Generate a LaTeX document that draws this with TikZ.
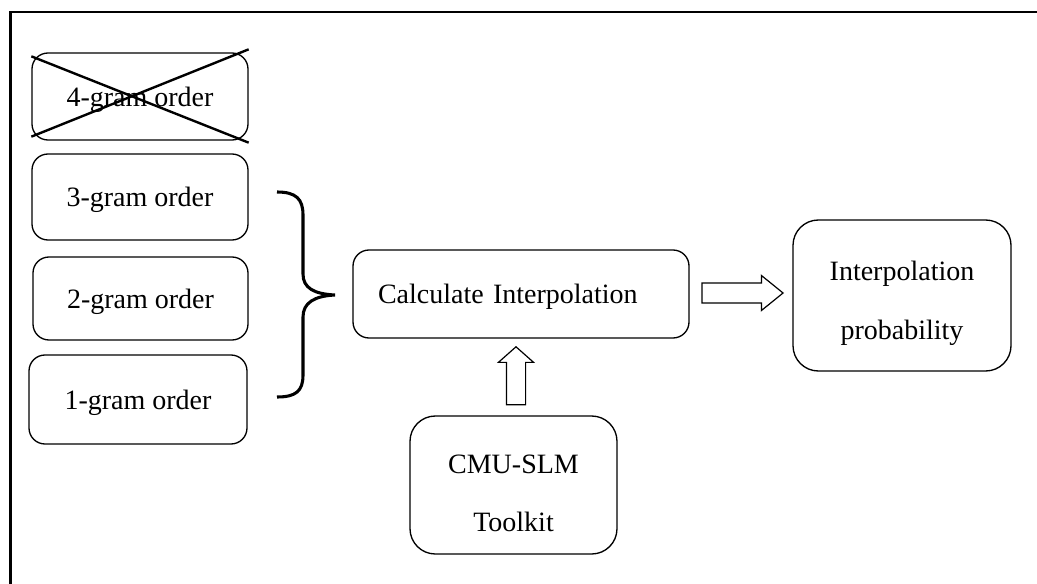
\documentclass[tikz,border=0pt]{standalone}
\usepackage{fontspec}
\setmainfont{Liberation Serif}
\usetikzlibrary{calc}
\usetikzlibrary{shapes,shapes.arrows}
\tikzset{
	every path/.style={line width=1pt},
	align=center,
	gram/.style={
		draw,
		rectangle,
		rounded corners=12pt,
		inner sep=0pt,
		text depth=0pt,
		font=\fontsize{21pt}{44pt}\selectfont,
	},
	tool/.style={
		gram,
		rounded corners=19pt,
	},
	fat/.style={
		draw,
		single arrow,
		inner sep=6.75pt,
		minimum width=25.5pt,
		line width=0.9pt,
	},
	crossed/.style={line width=1.8pt},
	curly/.style={line width=2.3pt},
	frame/.style={line width=1.6pt},
}

\begin{document}
\begin{tikzpicture}[x=0.75pt,y=-0.75pt]
		\useasboundingbox (0,0) rectangle (1037,584);

		\draw[frame] (10.5,584) -- (10.5,12) -- (1037,12);

		\node[gram, minimum width=162pt, minimum height=65.25pt]    (four) at (140,96.5) {4-gram order};
		\node[gram, minimum width=162pt, minimum height=64.5pt]     (three) at (140,197) {3-gram order};
		\node[gram, minimum width=161.25pt, minimum height=62.25pt] (two) at (140.5,298.5) {2-gram order};
		\node[gram, minimum width=163.5pt, minimum height=66.75pt]  (one) at (138,399.5) {1-gram order};

		\draw[crossed] ($(four.north west)+(0,4)$) -- ($(four.south east)+(0,2)$);
		\draw[crossed] ($(four.south west)+(0,-4)$) -- ($(four.north east)+(0,-3)$);

		\draw[curly] (277,192) .. controls (296,192) and (303,199) .. (303,215) -- (303,274)
			.. controls (303,288) and (314,294) .. (335,295)
			.. controls (314,296) and (303,303) .. (303,317) -- (303,375)
			.. controls (303,391) and (296,397) .. (277,397);

		\node[gram, text width=214.5pt, align=left, inner xsep=18.75pt, minimum height=66pt] (calc) at (521,294) {Calculate Interpolation};

		\node[tool, minimum width=163.5pt, minimum height=113.25pt] (prob) at (902,295.5) {\rule{0pt}{22pt}Interpolation\\probability};
		\node[tool, minimum width=155.25pt, minimum height=103.5pt] (cmu) at (513.5,485) {\rule{0pt}{26pt}CMU-SLM\\Toolkit};

		\node[fat, single arrow head extend=6pt, single arrow tip angle=97, minimum height=43.5pt,
			shape border rotate=90, anchor=tip] (up) at (516,346) {};
		\node[fat, inner sep=7.1pt, single arrow head extend=5.6pt, single arrow tip angle=78,
			minimum height=60.75pt, anchor=tip] (right) at (784,293) {};

	\end{tikzpicture}
\end{document}
